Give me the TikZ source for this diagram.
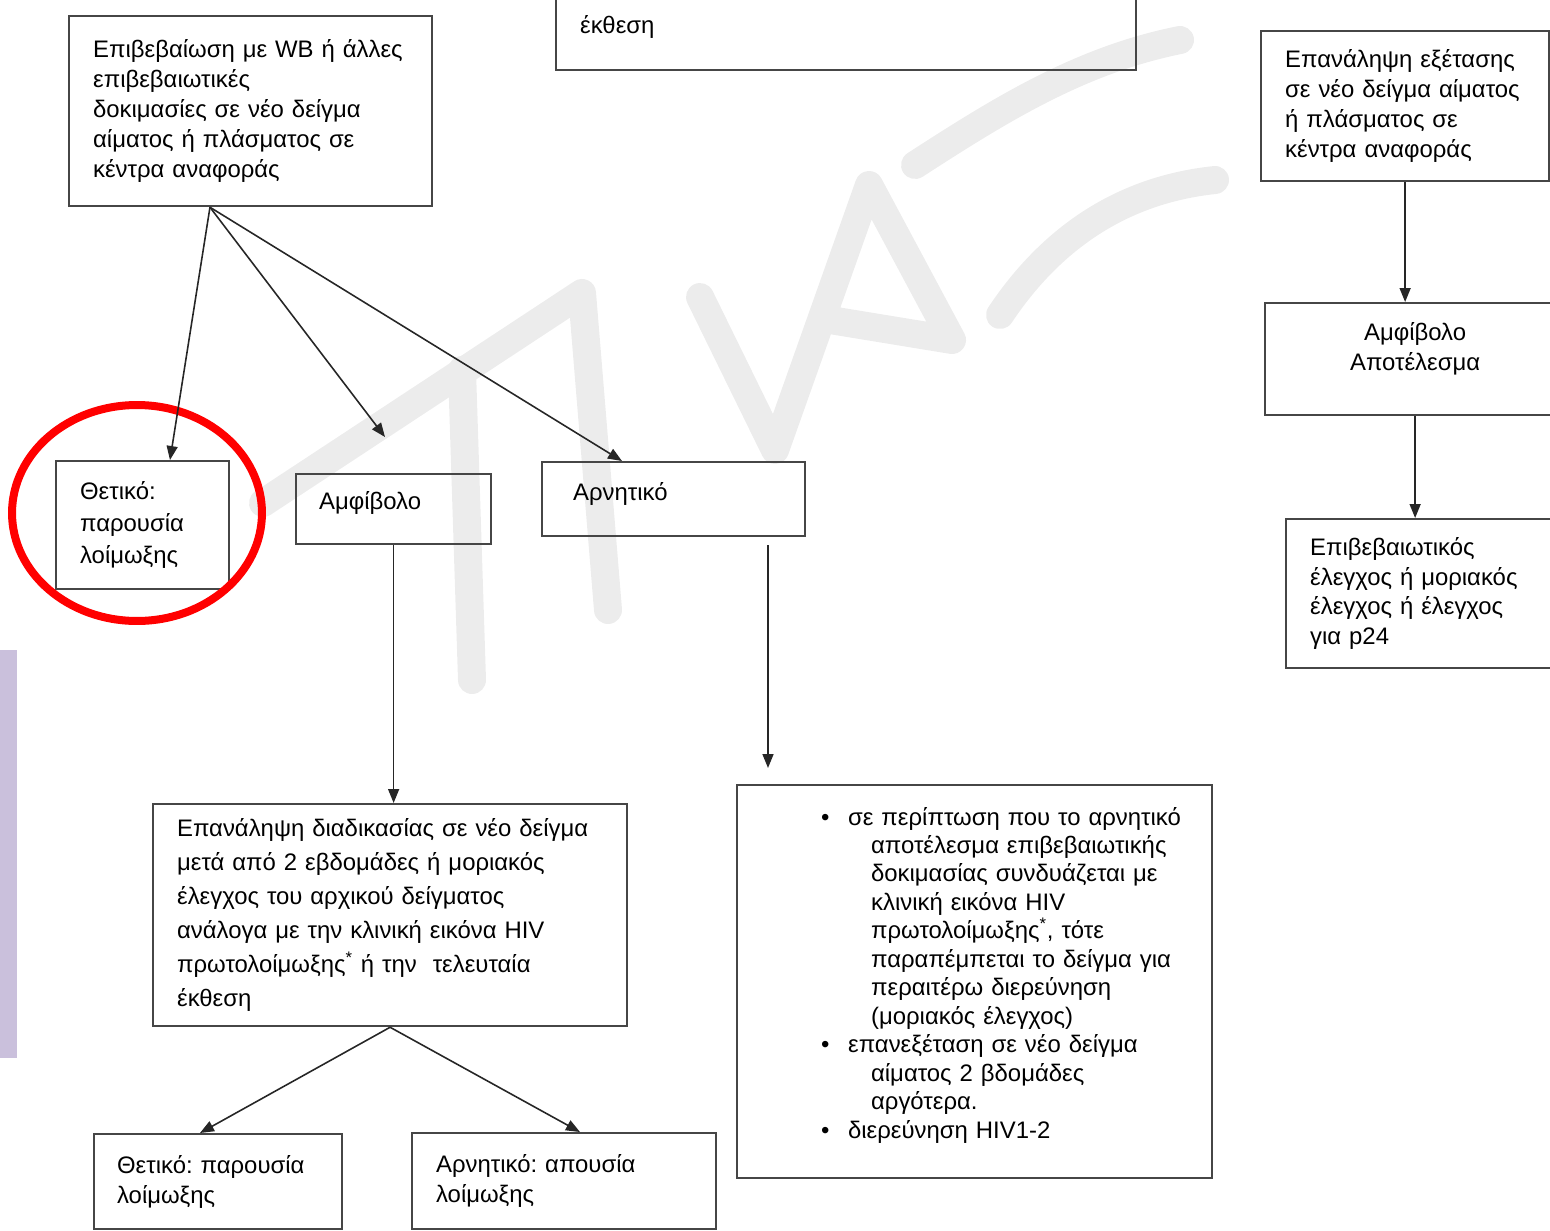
\documentclass[tikz,border=0pt]{standalone}
\usepackage{fontspec}
\setmainfont{Liberation Sans}
\usetikzlibrary{arrows.meta,positioning}
\definecolor{lavbar}{RGB}{202,192,220}
\definecolor{wmgray}{RGB}{236,236,236}
\definecolor{boxline}{RGB}{70,70,70}
\newcommand{\bpoint}{\hspace*{1.48cm}\makebox[0.54cm][l]{\textbullet}}
\newcommand{\bnext}{\hspace*{2.48cm}}
\newcommand{\lowpad}[1]{\rule[-#1]{0pt}{0pt}}
\frenchspacing

\begin{document}
\begin{tikzpicture}[x=0.02cm, y=-0.02cm,
		box/.style={draw=boxline, line width=1.3pt, anchor=north west, align=left, inner xsep=0.48cm, inner ysep=0pt, font=\fontsize{13.6}{17}\selectfont},
		arr/.style={-{Triangle[length=0.28cm, width=0.22cm]}, line width=0.9pt, black!85},
		wm/.style={wmgray, line width=0.56cm, line join=round, line cap=round}]
		\useasboundingbox (0,0) rectangle (1550,1230);
		\clip (0,0) rectangle (1550,1230);
		% watermark
		\draw [wm] (263,503) -- (582,293) -- (608,610);
		\draw [wm] (462,370) -- (472,680);
		\draw [wm] (700,297) -- (775,450) -- (869,185) -- (952,340) -- (830,320);
		\draw [wm] (915,165) .. controls (1000,110) and (1080,60) .. (1180,40);
		\draw [wm] (1000,315) .. controls (1050,240) and (1120,190) .. (1215,180);
		\fill [lavbar] (0,650) rectangle (17,1058);
		% boxes
		\node (prevbox) [box, anchor=south west, text width=10.64cm, inner ysep=0.62cm] at (555,71) {\rule{0pt}{3cm}έκθεση};
		\node (confirm) [box, text width=6.3cm, minimum height=3.8cm] at (68,15) {\mbox{Επιβεβαίωση με WB ή άλλες}\\ επιβεβαιωτικές\\ δοκιμασίες σε νέο δείγμα\\ αίματος ή πλάσματος σε\\ κέντρα αναφοράς};
		\node (retest) [box, text width=4.8cm, minimum height=3cm] at (1260,30) {Επανάληψη εξέτασης\\ \mbox{σε νέο δείγμα αίματος}\\ ή πλάσματος σε\\ κέντρα αναφοράς};
		\node (doubtful2) [box, align=center, text width=5.04cm, minimum height=2.24cm] at (1264,302) {Αμφίβολο\\ Αποτέλεσμα\lowpad{0.52cm}};
		\node (confirm2) [box, text width=4.84cm, minimum height=2.98cm, font=\fontsize{13.6}{16.8}\selectfont] at (1285,518) {Επιβεβαιωτικός\\ έλεγχος ή μοριακός\\ έλεγχος ή έλεγχος\\ για p24};
		\node (pos1) [box, text width=2.5cm, minimum height=2.56cm, font=\fontsize{13.6}{18.2}\selectfont] at (55,460) {Θετικό:\\ παρουσία\\ λοίμωξης};
		\node (doubt1) [box, inner xsep=0.46cm, text width=2.98cm, minimum height=1.4cm] at (295,473) {Αμφίβολο\lowpad{0.36cm}};
		\node (neg1) [box, inner xsep=0.62cm, text width=4.02cm, minimum height=1.48cm] at (541,461) {Αρνητικό\lowpad{0.32cm}};
		\node (repeat) [box, text width=8.52cm, minimum height=4.44cm, font=\fontsize{13.6}{19.3}\selectfont] at (152,803) {Επανάληψη διαδικασίας σε νέο δείγμα\\ μετά από 2 εβδομάδες ή μοριακός\\ έλεγχος του αρχικού δείγματος\\ ανάλογα με την κλινική εικόνα HIV\\ πρωτολοίμωξης\textsuperscript{*} ή την\ \ τελευταία\\ έκθεση};
		\node (negnote) [box, inner xsep=0.2cm, text width=9.1cm, minimum height=7.86cm, font=\fontsize{13.6}{16.2}\selectfont] at (736,784) {\bpoint σε περίπτωση που το αρνητικό\\
			\bnext αποτέλεσμα επιβεβαιωτικής\\
			\bnext δοκιμασίας συνδυάζεται με\\
			\bnext κλινική εικόνα HIV\\
			\bnext πρωτολοίμωξης\textsuperscript{*}, τότε\\
			\bnext παραπέμπεται το δείγμα για\\
			\bnext περαιτέρω διερεύνηση\\
			\bnext (μοριακός έλεγχος)\\
			\bpoint επανεξέταση σε νέο δείγμα\\
			\bnext αίματος 2 βδομάδες\\
			\bnext αργότερα.\\
			\bpoint διερεύνηση HIV1-2\lowpad{0.36cm}};
		\node (pos2) [box, inner xsep=0.46cm, text width=4.04cm, minimum height=1.9cm] at (93,1133) {Θετικό: παρουσία\\ λοίμωξης};
		\node (neg2) [box, text width=5.12cm, minimum height=1.92cm] at (411,1132) {Αρνητικό: απουσία\\ λοίμωξης};
		\draw [red, line width=0.16cm] (137,513) ellipse [x radius=2.5cm, y radius=2.16cm];
		% arrows
		\coordinate (doubttip) at (385,437);
		\coordinate (negstart) at (768,545);
		\coordinate (negend) at (768,768);
		\draw [arr] ([xshift=2.84cm]confirm.south west) -- ([xshift=2.3cm]pos1.north west);
		\draw [arr] ([xshift=2.84cm]confirm.south west) -- (doubttip);
		\draw [arr] ([xshift=2.84cm]confirm.south west) -- ([xshift=1.62cm]neg1.north west);
		\draw [arr] (retest.south) -- (retest.south |- doubtful2.north);
		\draw [arr] (doubtful2.south) -- (doubtful2.south |- confirm2.north);
		\draw [arr] (doubt1.south) -- (doubt1.south |- repeat.north);
		\draw [arr] (negstart) -- (negend);
		\draw [arr] (repeat.south) -- ([xshift=2.14cm]pos2.north west);
		\draw [arr] (repeat.south) -- ([xshift=3.38cm]neg2.north west);
	\end{tikzpicture}
\end{document}
